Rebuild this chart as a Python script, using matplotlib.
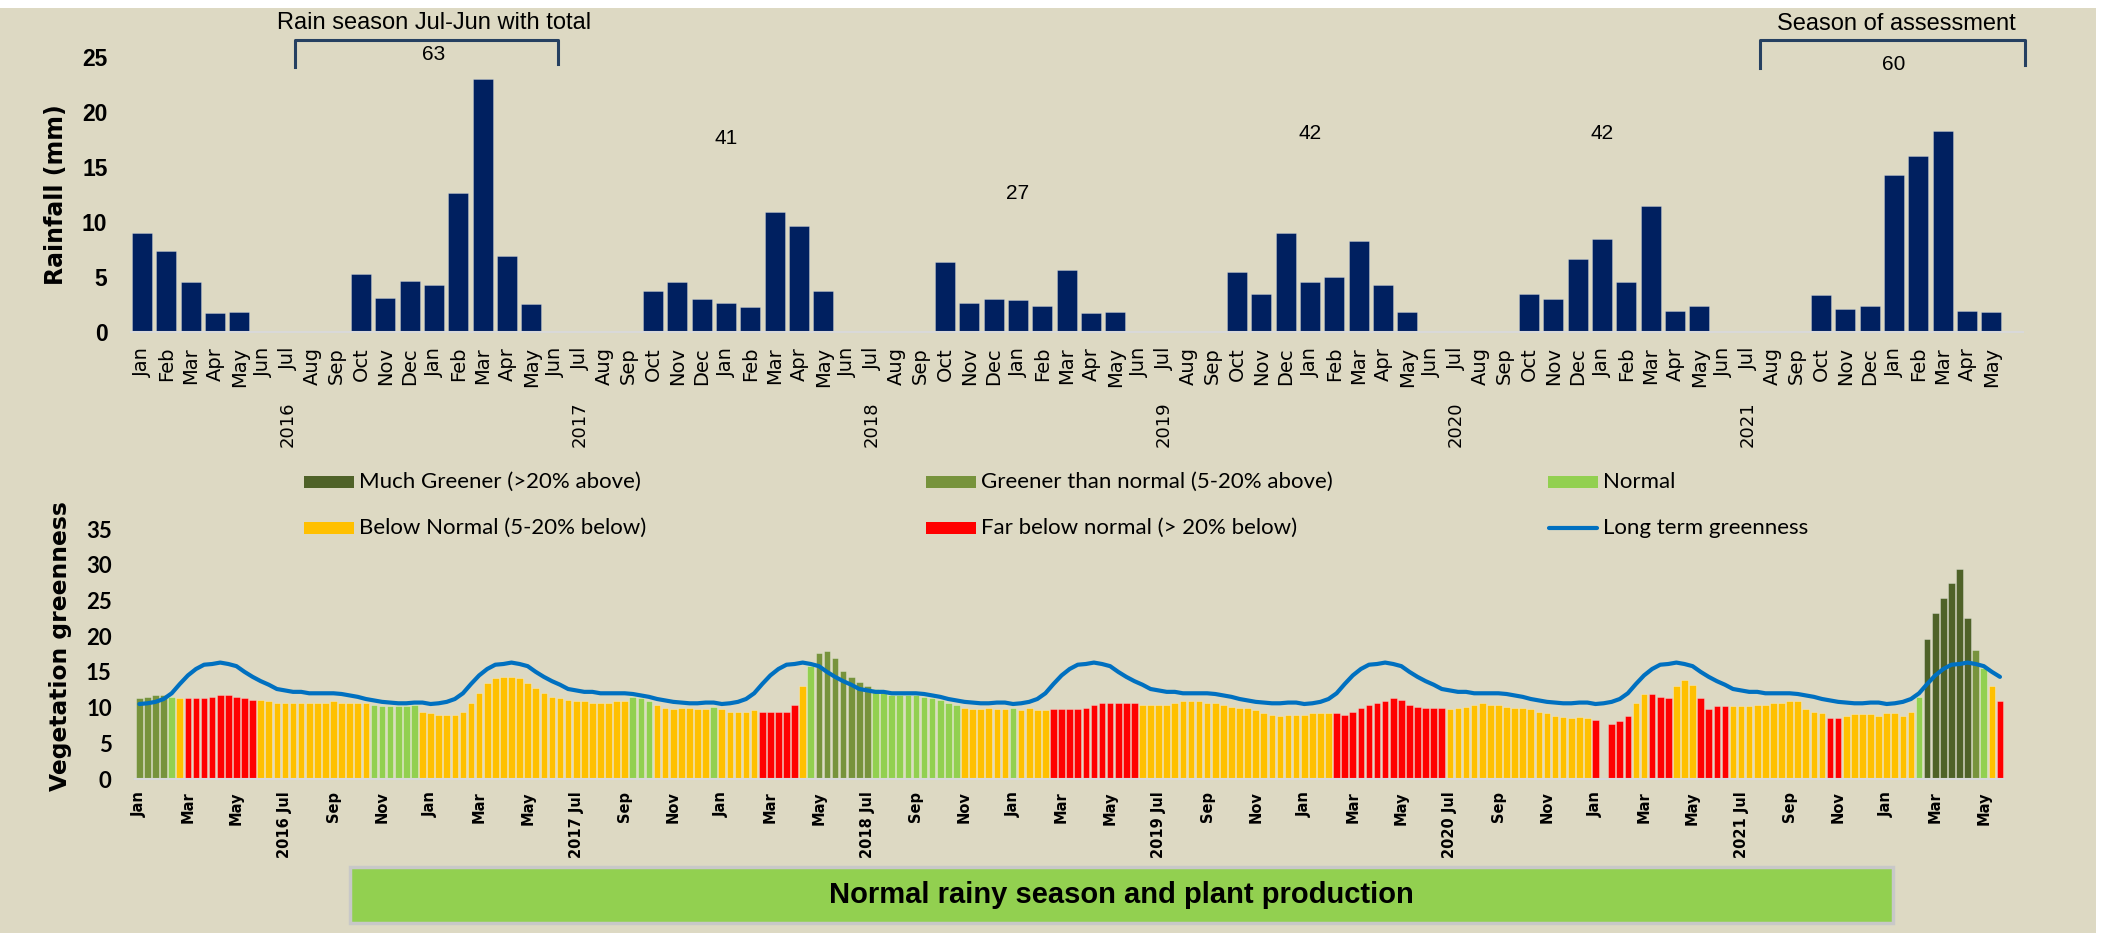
import numpy as np
import matplotlib
matplotlib.use('Agg')
import matplotlib.pyplot as plt
from matplotlib.patches import Rectangle
from matplotlib.lines import Line2D

# ---------------- data ----------------
month_names = ['Jan', 'Feb', 'Mar', 'Apr', 'May', 'Jun', 'Jul', 'Aug', 'Sep', 'Oct', 'Nov', 'Dec']

# monthly rainfall (mm), Jan 2016 .. May 2022
rainfall = [9.0, 7.3, 4.5, 1.7, 1.8, 0, 0, 0, 0, 5.2, 3.1, 4.6,     # 2016
            4.2, 12.6, 23.0, 6.9, 2.5, 0, 0, 0, 0, 3.7, 4.5, 3.0,   # 2017
            2.6, 2.2, 10.9, 9.6, 3.7, 0, 0, 0, 0, 6.3, 2.6, 3.0,    # 2018
            2.9, 2.3, 5.6, 1.7, 1.8, 0, 0, 0, 0, 5.4, 3.4, 9.0,     # 2019
            4.5, 5.0, 8.2, 4.2, 1.8, 0, 0, 0, 0, 3.4, 3.0, 6.6,     # 2020
            8.4, 4.5, 11.4, 1.9, 2.3, 0, 0, 0, 0, 3.3, 2.1, 2.3,    # 2021
            14.2, 16.0, 18.2, 1.9, 1.8]                             # 2022
rain_labels = [month_names[i % 12] for i in range(len(rainfall))]
season_years = ['2016', '2017', '2018', '2019', '2020', '2021']
season_total = [63, 41, 27, 42, 42, 60]

# dekadal vegetation greenness, Jan 2016 (1st dekad) .. May 2022 (3rd dekad)
ndvi = [11.3, 11.5, 11.7, 11.7, 11.5, 11.3, 11.3, 11.3, 11.3, 11.5, 11.7, 11.7,
        11.5, 11.3, 11.1, 11.1, 10.9, 10.7, 10.7, 10.7, 10.7, 10.7, 10.7, 10.7,
        10.9, 10.7, 10.7, 10.6, 10.6, 10.4, 10.2, 10.2, 10.2, 10.2, 10.4, 9.4,
        9.3, 9.0, 9.0, 9.0, 9.4, 10.6, 12.0, 13.4, 14.1, 14.3, 14.3, 14.1,
        13.4, 12.8, 12.0, 11.5, 11.3, 11.1, 10.9, 10.9, 10.6, 10.6, 10.7, 10.9,
        10.9, 11.5, 11.3, 10.9, 10.4, 10.0, 9.8, 10.0, 10.0, 9.8, 9.8, 10.1,
        9.8, 9.4, 9.4, 9.4, 9.6, 9.4, 9.4, 9.4, 9.4, 10.3, 13.0, 15.8,
        17.7, 17.9, 17.0, 15.1, 14.3, 13.6, 13.0, 12.6, 12.0, 11.7, 11.7, 11.7,
        11.7, 11.5, 11.3, 11.1, 10.7, 10.3, 10.0, 9.8, 9.8, 10.0, 9.8, 9.8,
        10.0, 9.6, 10.0, 9.6, 9.6, 9.8, 9.8, 9.8, 9.8, 10.0, 10.3, 10.7,
        10.7, 10.6, 10.6, 10.6, 10.3, 10.3, 10.3, 10.3, 10.6, 10.9, 10.9, 10.9,
        10.7, 10.6, 10.3, 10.1, 10.0, 10.0, 9.6, 9.2, 9.0, 8.8, 9.0, 9.0,
        9.0, 9.2, 9.2, 9.2, 9.2, 9.0, 9.4, 10.0, 10.3, 10.7, 10.9, 11.3,
        11.1, 10.3, 10.1, 10.0, 10.0, 10.0, 9.8, 10.0, 10.1, 10.3, 10.6, 10.3,
        10.3, 10.1, 10.0, 10.0, 9.8, 9.4, 9.2, 8.8, 8.65, 8.5, 8.65, 8.5,
        8.3, np.nan, 7.7, 8.1, 8.8, 10.7, 11.9, 11.9, 11.5, 11.3, 13.0, 13.8,
        13.2, 11.3, 9.8, 10.2, 10.2, 10.2, 10.2, 10.2, 10.4, 10.4, 10.6, 10.7,
        10.9, 10.9, 9.8, 9.4, 9.3, 8.5, 8.5, 8.8, 9.1, 9.1, 9.1, 8.8,
        9.3, 9.3, 8.8, 9.4, 11.5, 19.6, 23.2, 25.3, 27.5, 29.4, 22.5, 18.1,
        15.5, 13.0, 10.9]
# M much greener, G greener, N normal, B below normal, F far below
ndvi_class = ('GGGGN' + 'B' + 'F' * 9 + 'B' * 14 + 'N' * 6 + 'B' * 26 + 'N' * 3 + 'B' * 7 + 'N'
              + 'B' * 5 + 'F' * 5 + 'B' + 'N' + 'G' * 7 + 'N' * 11 + 'B' * 6 + 'N' + 'B' * 4
              + 'F' * 11 + 'B' * 24 + 'F' * 14 + 'B' * 18 + 'F' * 5 + 'B' * 2 + 'F' * 3 + 'B' * 3
              + 'F' * 4 + 'B' * 12 + 'F' * 2 + 'B' * 9 + 'N' + 'M' * 6 + 'G' + 'N' + 'B' + 'F')
# long term greenness per dekad of the year (Jan d1 .. Dec d3)
lta_dekad = [10.5, 10.6, 10.8, 11.2, 12.0, 13.3, 14.5, 15.4, 16.0, 16.1, 16.3, 16.1,
             15.8, 15.0, 14.3, 13.7, 13.2, 12.6, 12.4, 12.2, 12.2, 12.0, 12.0, 12.0,
             12.0, 11.9, 11.7, 11.5, 11.2, 11.0, 10.8, 10.7, 10.6, 10.6, 10.7, 10.7]

class_labels = {'M': 'Much Greener (>20% above)', 'G': 'Greener than normal (5-20% above)',
                'N': 'Normal', 'B': 'Below Normal (5-20% below)', 'F': 'Far below normal (> 20% below)'}
class_colors = {'M': '#4F6228', 'G': '#77933C', 'N': '#92D050', 'B': '#FFC000', 'F': '#FF0000'}

# ---------------- figure ----------------
W, H = 2111, 933
BG = '#DDD9C3'


def fig_rect(left, top, right, bottom):
    return [left / W, 1 - bottom / H, (right - left) / W, (bottom - top) / H]


fig = plt.figure(figsize=(W / 100, H / 100), dpi=100)
fig.patch.set_facecolor('white')
fig.add_artist(Rectangle((0, 0), 2096 / W, (H - 8) / H, transform=fig.transFigure,
                         facecolor=BG, edgecolor='none', zorder=-10))

# ---- rainfall ----
ax1 = fig.add_axes(fig_rect(131, 56.7, 2023, 331.7))
ax1.set_facecolor('none')
xm = np.arange(len(rainfall))
ax1.bar(xm, rainfall, width=0.82, color='#002060', edgecolor=(1, 1, 1, 0.3), linewidth=0.6)
ax1.set_xlim(-0.45, 77.3)
ax1.set_ylim(0, 25)
ax1.set_yticks(range(0, 26, 5))
ax1.set_yticklabels([str(v) for v in range(0, 26, 5)], fontsize=16.5, fontweight='bold',
                    family='Liberation Sans')
ax1.set_xticks(xm)
ax1.set_xticklabels(rain_labels, rotation=90, fontsize=14, family='DejaVu Sans')
ax1.tick_params(axis='x', length=0, pad=11)
ax1.tick_params(axis='y', length=0, pad=17)
for s in ['top', 'right', 'left']:
    ax1.spines[s].set_visible(False)
ax1.spines['bottom'].set_color('#D9D9D9')
ax1.spines['bottom'].set_linewidth(1.5)
ax1.set_ylabel('Rainfall (mm)', fontsize=17, fontweight='bold', family='DejaVu Sans')
ax1.yaxis.set_label_coords(-0.0333, 0.5)

for j, yr in enumerate(season_years):
    ax1.annotate(yr, xy=(6 + 12 * j, 0), xycoords=('data', 'axes fraction'),
                 xytext=(0, -50), textcoords='offset points', rotation=90,
                 ha='center', va='top', fontsize=13, family='DejaVu Sans')

total_y = [25.2, 17.6, 12.6, 18.0, 18.0, 24.3]
for j, tot in enumerate(season_total):
    ax1.text(12 + 12 * j, total_y[j], str(tot), ha='center', va='center', fontsize=15,
             family='Liberation Sans', clip_on=False)

br_col = '#254061'
ax1.plot([6.3, 6.3, 17.1, 17.1], [24.1, 26.5, 26.5, 24.3], color=br_col, lw=2.2, clip_on=False)
ax1.plot([66.5, 66.5, 77.4, 77.4], [24.0, 26.5, 26.5, 24.2], color=br_col, lw=2.2, clip_on=False)
ax1.text(12, 28.1, 'Rain season Jul-Jun with total', ha='center', va='center', fontsize=17,
         family='Liberation Sans', clip_on=False)
ax1.text(72.1, 28.0, 'Season of assessment', ha='center', va='center', fontsize=17,
         family='Liberation Sans', clip_on=False)

# ---- vegetation greenness ----
ax2 = fig.add_axes(fig_rect(135.3, 529, 2004, 779))
ax2.set_facecolor('none')
xd = np.arange(len(ndvi))
ax2.bar(xd, ndvi, width=0.82, color=[class_colors[c] for c in ndvi_class],
        edgecolor=(1, 1, 1, 0.35), linewidth=0.6)
lt_green = [lta_dekad[k % 36] for k in xd]
ax2.plot(xd, lt_green, color='#0070C0', lw=3, solid_capstyle='round')
ax2.set_xlim(-0.5, 230.5)
ax2.set_ylim(0, 35)
ax2.set_yticks(range(0, 36, 5))
ax2.set_yticklabels([str(v) for v in range(0, 36, 5)], fontsize=16, fontweight='bold', family='Lato')

tick_pos = list(range(0, len(ndvi), 6))
tick_lab = []
for t in tick_pos:
    m = (t // 3) % 12
    lab = month_names[m]
    if m == 6:
        lab = '%d %s' % (2016 + t // 36, lab)
    tick_lab.append(lab)
ax2.set_xticks(tick_pos)
ax2.set_xticklabels(tick_lab, rotation=90, fontsize=10.5, fontweight='bold', family='DejaVu Sans')
ax2.tick_params(axis='x', length=0, pad=9)
ax2.tick_params(axis='y', length=0, pad=17)
for s in ['top', 'right', 'left']:
    ax2.spines[s].set_visible(False)
ax2.spines['bottom'].set_color('#D9D9D9')
ax2.spines['bottom'].set_linewidth(1.5)
ax2.set_ylabel('Vegetation greenness', fontsize=16.8, fontweight='bold', family='DejaVu Sans')
ax2.yaxis.set_label_coords(-0.0339, 0.532)

# ---- legend (3 columns x 2 rows) ----
leg_items = [('M', 0, 0), ('G', 1, 0), ('N', 2, 0), ('B', 0, 1), ('F', 1, 1), ('LT', 2, 1)]
col_x = [303.6, 926, 1548]
row_y = [482, 528]
for key, c, r in leg_items:
    x0 = col_x[c]
    yc = row_y[r]
    if key == 'LT':
        fig.add_artist(Line2D([(x0 + 1) / W, (x0 + 49) / W], [1 - yc / H, 1 - yc / H],
                              transform=fig.transFigure, color='#0070C0', lw=3,
                              solid_capstyle='round'))
        label = 'Long term greenness'
    else:
        fig.add_artist(Rectangle((x0 / W, 1 - (yc + 6) / H), 50 / W, 12 / H,
                                 transform=fig.transFigure, facecolor=class_colors[key],
                                 edgecolor='none'))
        label = class_labels[key]
    fig.text((x0 + 55) / W, 1 - yc / H, label, ha='left', va='center', fontsize=16, family='Lato')

# ---- bottom message box ----
fig.add_artist(Rectangle((350 / W, 10 / H), 1543 / W, 56 / H, transform=fig.transFigure,
                         facecolor='#92D050', edgecolor='#C8C8C8', lw=2.5))
fig.text(1121 / W, 38 / H, 'Normal rainy season and plant production', ha='center', va='center',
         fontsize=21, fontweight='bold', family='Liberation Sans')

plt.savefig('out.png', dpi=100, facecolor=fig.get_facecolor())
